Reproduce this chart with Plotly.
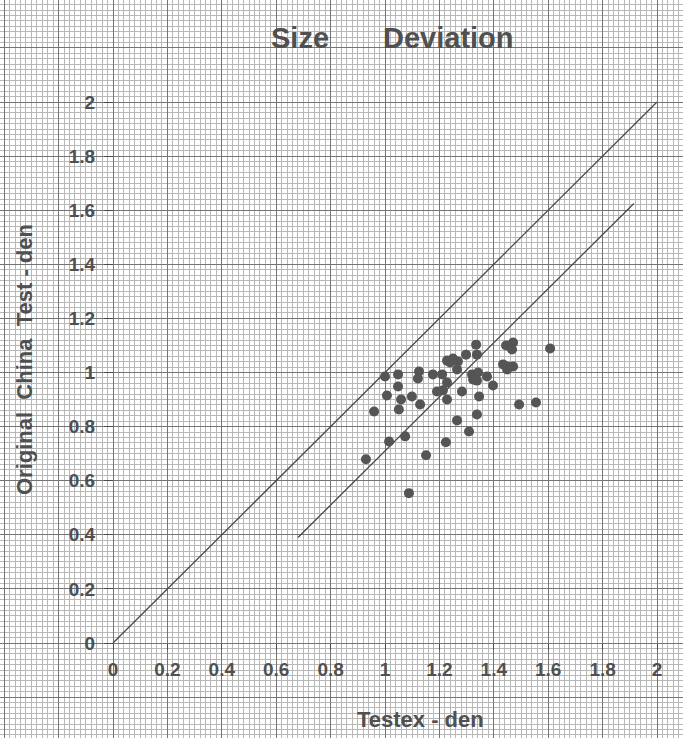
import plotly.graph_objects as go

# Scatter readings (Testex vs Original China Test, den)
testex = [
  1.335, 1.445, 1.471, 1.467, 1.607, 1.298, 1.338, 1.228, 1.250, 1.268,
  1.239, 1.434, 1.452, 1.471, 1.449, 1.265, 1.000, 1.048, 1.125, 1.121,
  1.176, 1.210, 1.320, 1.342, 1.375, 1.324, 1.338, 1.228, 1.048, 1.397,
  1.191, 1.213, 1.283, 1.007, 1.346, 1.099, 1.059, 1.228, 1.129, 1.493,
  1.555, 1.051, 0.960, 1.338, 1.265, 1.309, 1.074, 1.015, 1.224, 1.151,
  0.930, 1.088,
]
china = [
  1.103, 1.100, 1.111, 1.085, 1.089, 1.066, 1.066, 1.044, 1.052, 1.041,
  1.037, 1.030, 1.022, 1.022, 1.011, 1.011, 0.985, 0.993, 1.004, 0.978,
  0.993, 0.993, 0.993, 1.000, 0.985, 0.974, 0.970, 0.963, 0.948, 0.952,
  0.930, 0.934, 0.930, 0.915, 0.911, 0.911, 0.900, 0.900, 0.882, 0.882,
  0.889, 0.863, 0.856, 0.845, 0.823, 0.782, 0.764, 0.745, 0.742, 0.694,
  0.679, 0.554,
]

# reference lines
equal_x = [0, 2]
equal_y = [0, 2]
offset_x = [0.68, 1.915]
offset_y = [0.39, 1.625]

tick_vals = [0, 0.2, 0.4, 0.6, 0.8, 1, 1.2, 1.4, 1.6, 1.8, 2]
x_tick_text = ["0", "0.2", "0.4", "0.6", "0.8", "1", "1.2", "1.4", "1.6", "1.8", "2"]
y_tick_text = ["0", "0.2", "0.4", "0.6", "0.8", "1", "1.2", "1.4", "1.6", "1.8", "2"]

W, H = 683, 738
X0_PX, X_SCALE = 113, 272.0
Y0_PX, Y_SCALE = 643, 270.5
x_range = [-X0_PX / X_SCALE, (W - X0_PX) / X_SCALE]
y_range = [-(H - Y0_PX) / Y_SCALE, Y0_PX / Y_SCALE]

INK = "#4a4a4a"
TXT = dict(family="Liberation Sans, Arial, sans-serif", color="#505050", weight="bold")

fig = go.Figure()

fig.add_trace(go.Scatter(
  x=equal_x, y=equal_y, mode="lines",
  line=dict(color=INK, width=1.3), showlegend=False, hoverinfo="skip",
))
fig.add_trace(go.Scatter(
  x=offset_x, y=offset_y, mode="lines",
  line=dict(color=INK, width=1.3), showlegend=False, hoverinfo="skip",
))
fig.add_trace(go.Scatter(
  x=testex, y=china, mode="markers",
  marker=dict(color="#555555", size=10, line=dict(width=0)),
  showlegend=False,
))

# graph paper on the base axes
paper_axis = dict(
  showgrid=True, showticklabels=False, ticks="", zeroline=False, showline=False,
  tickmode="linear", dtick=0.2, tick0=0, gridcolor="#747474", gridwidth=1.3,
  minor=dict(dtick=0.02, tick0=0, showgrid=True, gridcolor="#b8b8b8", gridwidth=1),
)

# tick marks + labels on free overlaid axes
tick_axis = dict(
  tickmode="array", tickvals=tick_vals,
  ticks="outside", tickwidth=1.3, tickcolor=INK,
  showgrid=False, zeroline=False, showline=False,
  tickfont=dict(size=19, **TXT),
)

fig.update_layout(
  template="none",
  width=W, height=H,
  margin=dict(l=0, r=0, t=0, b=0, pad=0),
  paper_bgcolor="white", plot_bgcolor="white",
  xaxis=dict(range=x_range, domain=[0, 1], **paper_axis),
  yaxis=dict(range=y_range, domain=[0, 1], **paper_axis),
  xaxis2=dict(range=x_range, overlaying="x", anchor="free", position=1 - Y0_PX / H,
              ticktext=x_tick_text, ticklen=6, ticklabelstandoff=3, **tick_axis),
  yaxis2=dict(range=y_range, overlaying="y", anchor="free", position=X0_PX / W,
              ticktext=y_tick_text, ticklen=9, ticklabelstandoff=5, **tick_axis),
  annotations=[
    dict(text="Size", x=300 / W, y=1 - 38 / H, xref="paper", yref="paper",
         xanchor="center", yanchor="middle",
         showarrow=False, font=dict(size=29, **TXT)),
    dict(text="Deviation", x=448 / W, y=1 - 38 / H, xref="paper", yref="paper",
         xanchor="center", yanchor="middle",
         showarrow=False, font=dict(size=29, **TXT)),
    dict(text="Testex - den", x=420 / W, y=1 - 719 / H, xref="paper", yref="paper",
         xanchor="center", yanchor="middle",
         showarrow=False, font=dict(size=22, **TXT)),
    dict(text="Original  China  Test - den", x=24 / W, y=1 - 360 / H,
         xref="paper", yref="paper", textangle=-90,
         xanchor="center", yanchor="middle",
         showarrow=False, font=dict(size=22, **TXT)),
  ],
)

# invisible trace so the tick axes are drawn
fig.add_trace(go.Scatter(
  x=[None], y=[None], xaxis="x2", yaxis="y2", mode="markers",
  showlegend=False, hoverinfo="skip",
))

fig.write_html(
  "out.html",
  config={"displayModeBar": False},
  post_script="document.body.style.margin='0px';",
)
